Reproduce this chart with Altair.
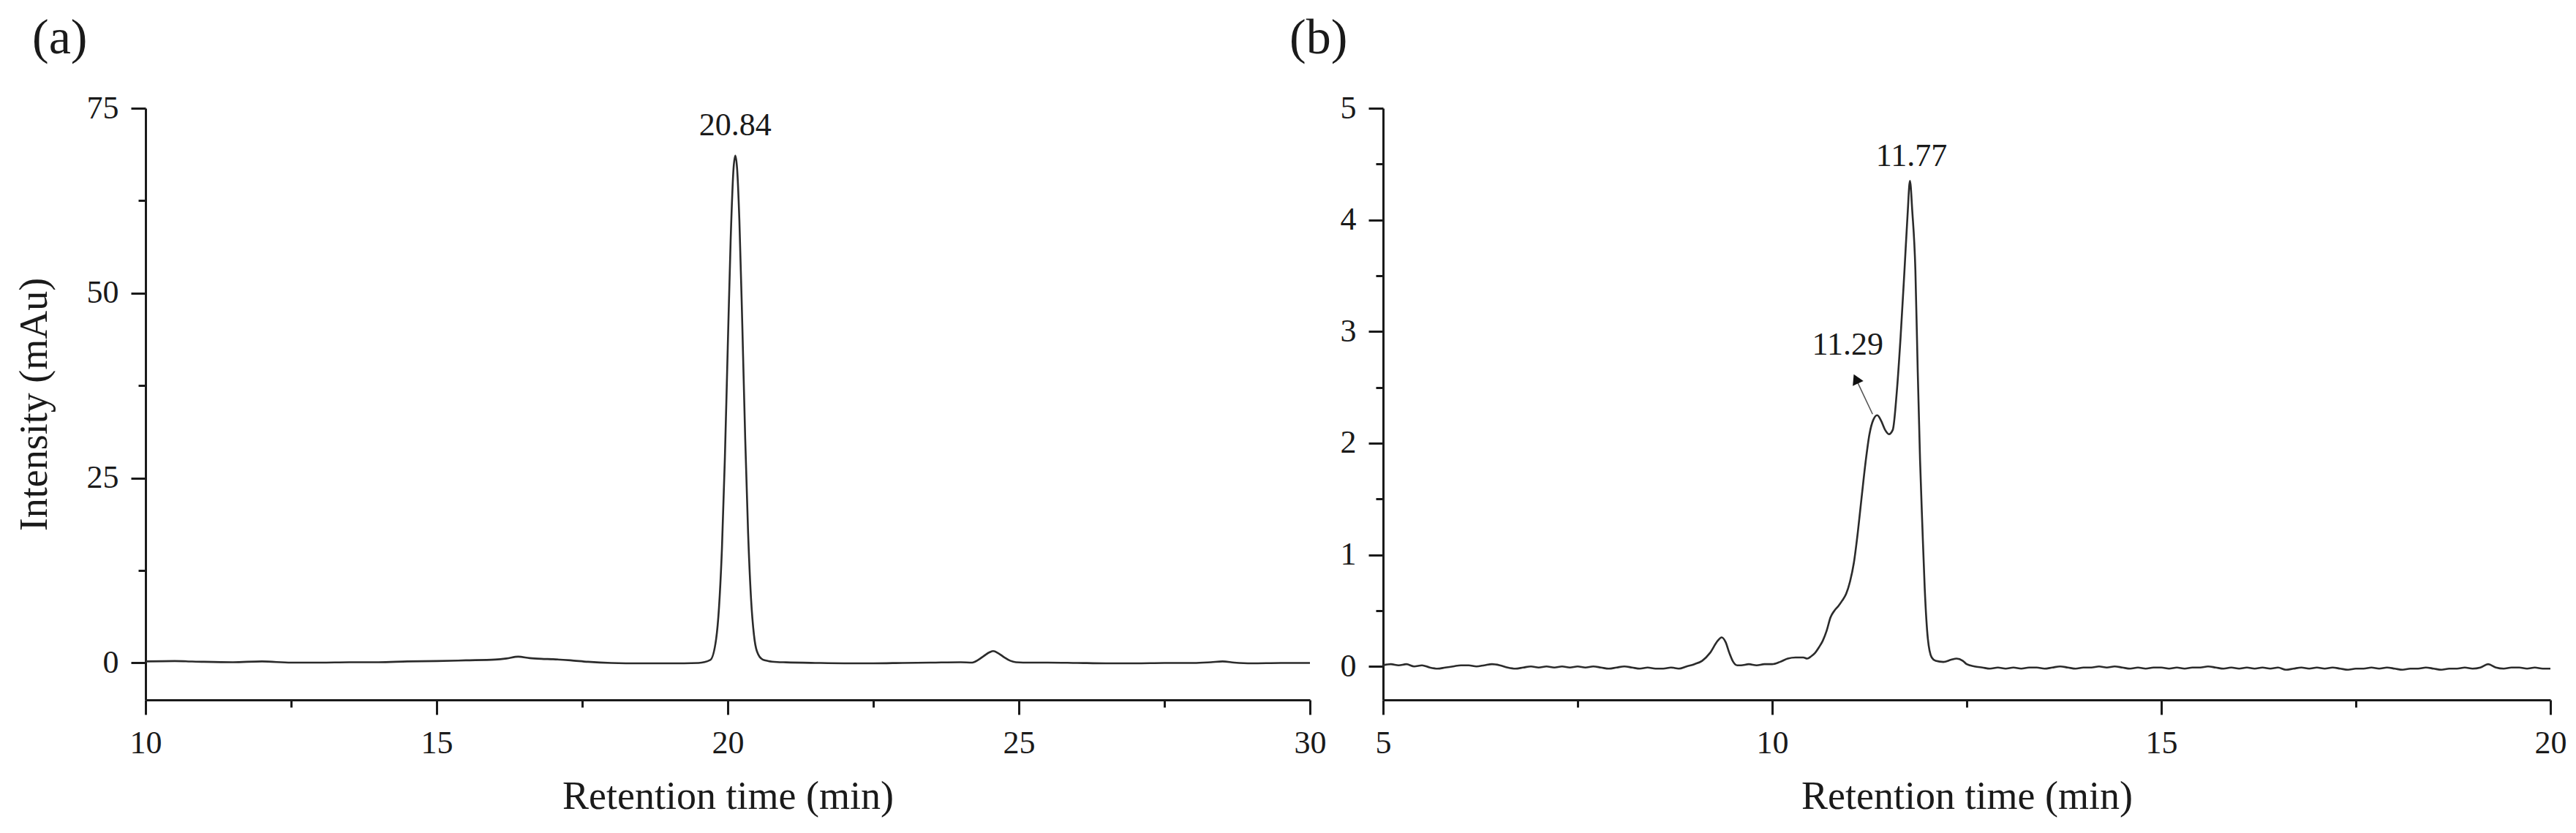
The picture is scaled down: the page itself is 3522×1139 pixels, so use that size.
import altair as alt
import pandas as pd

FONT = "Liberation Serif"
INK = "#1a1a1a"
LINE = "#2b2b2b"

# ---------------- panel (a) ----------------
a_time = [10.0, 10.5, 11.0, 11.5, 12.0, 12.5, 13.0, 13.5, 14.0, 14.5, 15.0, 15.5,
          16.0, 16.2, 16.4, 16.6, 16.8, 17.0, 17.3, 17.6, 18.0, 18.5, 19.0, 19.5,
          19.7, 19.8, 19.85, 19.9, 19.95, 20.0, 20.05, 20.1, 20.13, 20.16, 20.2,
          20.25, 20.3, 20.35, 20.4, 20.45, 20.5, 20.6, 20.7, 20.85, 21.0, 21.5,
          22.0, 22.5, 23.0, 23.5, 24.0, 24.2, 24.3, 24.4, 24.5, 24.56, 24.65,
          24.75, 24.85, 24.95, 25.2, 25.5, 26.0, 26.5, 27.0, 27.5, 28.0, 28.3,
          28.5, 28.7, 29.0, 29.5, 30.0]
a_intensity = [0.2, 0.25, 0.15, 0.1, 0.2, 0.05, 0.05, 0.1, 0.1, 0.2, 0.25, 0.35,
               0.45, 0.6, 0.85, 0.65, 0.55, 0.5, 0.35, 0.15, 0.0, -0.05, -0.05, 0.0,
               0.4, 3.2, 7.5, 15.4, 27.5, 42.6, 57.2, 66.9, 68.6, 66.9, 59.8,
               45.7, 30.3, 17.5, 8.7, 3.8, 1.6, 0.45, 0.25, 0.12, 0.08, 0.0,
               -0.05, -0.05, 0.0, 0.05, 0.1, 0.05, 0.4, 0.95, 1.45, 1.6, 1.3,
               0.75, 0.3, 0.1, 0.05, 0.05, 0.0, -0.05, -0.05, 0.0, 0.0, 0.1,
               0.2, 0.05, -0.05, 0.0, 0.0]

a_x_ticks = [10, 12.5, 15, 17.5, 20, 22.5, 25, 27.5, 30]
a_y_ticks = [0, 12.5, 25, 37.5, 50, 62.5, 75]
a_peak_text = ["20.84"]
a_peak_x = [20.13]
a_peak_y = [71.3]

# ---------------- panel (b) ----------------
b_time = [5.0, 5.1, 5.2, 5.3, 5.4, 5.5, 5.6, 5.7, 5.8, 5.9, 6.0, 6.1, 6.2, 6.3,
          6.4, 6.5, 6.6, 6.7, 6.8, 6.9, 7.0, 7.1, 7.2, 7.3, 7.4, 7.5, 7.6, 7.7,
          7.8, 7.9, 8.0, 8.1, 8.2, 8.3, 8.4, 8.5, 8.6, 8.7, 8.8, 8.9, 9.0,
          9.1, 9.2, 9.3, 9.35, 9.4, 9.45, 9.5, 9.55, 9.6, 9.7, 9.8, 9.9, 10.0,
          10.1, 10.2, 10.3, 10.4, 10.45, 10.5, 10.55, 10.6, 10.65, 10.7, 10.75,
          10.8, 10.85, 10.9, 10.95, 11.0, 11.05, 11.1, 11.15, 11.2, 11.25, 11.3,
          11.35, 11.4, 11.45, 11.5, 11.55, 11.6, 11.65, 11.7, 11.74, 11.77, 11.8,
          11.84, 11.87, 11.9, 11.93, 11.96, 12.0, 12.05, 12.1, 12.2, 12.3, 12.37,
          12.45, 12.5, 12.6,
          12.7, 12.8, 12.9, 13.0, 13.1, 13.2, 13.3, 13.4, 13.5, 13.6, 13.7, 13.8,
          13.9, 14.0, 14.1, 14.2, 14.3, 14.4, 14.5, 14.6, 14.7, 14.8, 14.9, 15.0,
          15.1, 15.2, 15.3, 15.4, 15.5, 15.6, 15.7, 15.8, 15.9, 16.0, 16.1, 16.2,
          16.3, 16.4, 16.5, 16.6, 16.7, 16.8, 16.9, 17.0, 17.1, 17.2, 17.3, 17.4,
          17.5, 17.6, 17.7, 17.8, 17.9, 18.0, 18.1, 18.2, 18.3, 18.4, 18.5, 18.6,
          18.7, 18.8, 18.9, 19.0, 19.1, 19.2, 19.3, 19.4, 19.5, 19.6, 19.7, 19.8,
          19.9, 20.0]
b_intensity = [0.01, 0.02, 0.01, 0.02, 0.0, 0.01, -0.01, -0.02, -0.01, 0.0, 0.01,
               0.01, 0.0, 0.01, 0.02, 0.01, -0.01, -0.02, -0.01, 0.0, -0.01, 0.0,
               -0.01, 0.0, -0.01, 0.0, -0.01, 0.0, -0.01, -0.02, -0.01, 0.0, -0.01,
               -0.02, -0.01, -0.02, -0.02, -0.01, -0.02, 0.0, 0.02,
               0.05, 0.12, 0.23, 0.26, 0.22, 0.12, 0.04, 0.01, 0.01, 0.02, 0.01,
               0.02, 0.02, 0.04, 0.07, 0.08, 0.08, 0.07, 0.09, 0.12, 0.17, 0.23,
               0.32, 0.44, 0.5, 0.54, 0.59, 0.65, 0.76, 0.93, 1.2, 1.52, 1.83, 2.08,
               2.21, 2.25, 2.2, 2.12, 2.08, 2.12, 2.45, 2.95, 3.55, 4.05, 4.35, 4.08,
               3.55, 2.65, 1.85, 1.25, 0.7, 0.25, 0.08, 0.05, 0.04, 0.06, 0.07,
               0.05, 0.02, 0.0,
               -0.01, -0.02, -0.01, -0.02, -0.01, -0.02, -0.01, -0.01, -0.02, -0.01,
               0.0, -0.01, -0.02, -0.01, -0.01, 0.0, -0.01, 0.0, -0.01, -0.02, -0.01,
               -0.02, -0.01, -0.01, -0.02, -0.01, -0.02, -0.01, -0.01, 0.0, -0.01,
               -0.02, -0.01, -0.02, -0.01, -0.02, -0.01, -0.02, -0.01, -0.03, -0.02,
               -0.01, -0.02, -0.01, -0.02, -0.01, -0.02, -0.03, -0.02, -0.02, -0.01,
               -0.02, -0.01, -0.02, -0.03, -0.02, -0.02, -0.01, -0.02, -0.03, -0.02,
               -0.02, -0.01, -0.02, -0.01, 0.02, -0.01, -0.02, -0.01, -0.01, -0.02,
               -0.01, -0.02, -0.02]

b_x_ticks = [5, 7.5, 10, 12.5, 15, 17.5, 20]
b_y_ticks = [0, 0.5, 1, 1.5, 2, 2.5, 3, 3.5, 4, 4.5, 5]
b_peak_text = ["11.77", "11.29"]
b_peak_x = [11.79, 10.97]
b_peak_y = [4.48, 2.79]
arrow_x = [11.29]
arrow_y = [2.26]
arrow_x2 = [11.076]
arrow_y2 = [2.576]

W_A, W_B, H = 1592, 1596, 809


def make_axis(values, major_mod, title=None, title_pad=None):
    kw = dict(
        values=values,
        format="~g",
        labelExpr=f"datum.value % {major_mod} === 0 ? datum.label : ''",
        tickSize={"condition": {"test": f"datum.value % {major_mod} === 0", "value": 20},
                  "value": 10},
        grid=False,
        domainColor=INK, domainWidth=3,
        tickColor=INK, tickWidth=3,
        labelFont=FONT, labelFontSize=44, labelColor=INK, labelPadding=17,
        labelFlush=False, labelOverlap=False,
        titleFont=FONT, titleFontSize=54, titleFontWeight="normal", titleColor=INK,
    )
    if title is not None:
        kw["title"] = title
        kw["titlePadding"] = title_pad
    else:
        kw["title"] = None
    return alt.Axis(**kw)


def panel_title(text, dx):
    return alt.TitleParams(text, anchor="start", frame="group", dx=dx, offset=-15,
                           fontSize=68, font=FONT, fontWeight="normal", color=INK,
                           baseline="alphabetic")


df_a = pd.DataFrame({"t": a_time, "v": a_intensity})
df_a_lab = pd.DataFrame({"t": a_peak_x, "v": a_peak_y, "txt": a_peak_text})

xa = alt.X("t:Q", scale=alt.Scale(domain=[10, 30], nice=False, zero=False),
           axis=make_axis(a_x_ticks, 5, "Retention time (min)", 24))
ya = alt.Y("v:Q", scale=alt.Scale(domain=[-5, 75], nice=False, zero=False),
           axis=make_axis(a_y_ticks, 25, "Intensity (mAu)", 44))

line_a = alt.Chart(df_a).mark_line(color=LINE, strokeWidth=2.6, interpolate="monotone").encode(x=xa, y=ya)
text_a = alt.Chart(df_a_lab).mark_text(font=FONT, fontSize=44, color=INK, align="center",
                                       baseline="alphabetic").encode(x="t:Q", y="v:Q", text="txt:N")
chart_a = alt.layer(line_a, text_a).properties(width=W_A, height=H, title=panel_title("(a)", -155))

df_b = pd.DataFrame({"t": b_time, "v": b_intensity})
df_b_lab = pd.DataFrame({"t": b_peak_x, "v": b_peak_y, "txt": b_peak_text})
df_arrow = pd.DataFrame({"t": arrow_x, "v": arrow_y, "t2": arrow_x2, "v2": arrow_y2})

xb = alt.X("t:Q", scale=alt.Scale(domain=[5, 20], nice=False, zero=False),
           axis=make_axis(b_x_ticks, 5, "Retention time (min)", 24))
yb = alt.Y("v:Q", scale=alt.Scale(domain=[-0.3, 5], nice=False, zero=False),
           axis=make_axis(b_y_ticks, 1))

line_b = alt.Chart(df_b).mark_line(color=LINE, strokeWidth=2.6, interpolate="monotone").encode(x=xb, y=yb)
text_b = alt.Chart(df_b_lab).mark_text(font=FONT, fontSize=44, color=INK, align="center",
                                       baseline="alphabetic").encode(x="t:Q", y="v:Q", text="txt:N")
arrow_line = alt.Chart(df_arrow).mark_rule(color="#555555", strokeWidth=1.6).encode(
    x="t:Q", y="v:Q", x2="t2:Q", y2="v2:Q")
arrow_head = alt.Chart(df_arrow).mark_point(shape="triangle-up", filled=True, color="#111111",
                                            size=260, angle=335, opacity=1).encode(x="t2:Q", y="v2:Q")
chart_b = alt.layer(line_b, text_b, arrow_line, arrow_head).properties(
    width=W_B, height=H, title=panel_title("(b)", -128))

chart = alt.hconcat(chart_a, chart_b, spacing=100, bounds="flush").properties(
    padding={"left": 12, "top": 11, "right": 5, "bottom": 5},
    background="white",
).configure_view(stroke=None)

chart.save("out.html", embed_options={"renderer": "svg", "actions": False})
